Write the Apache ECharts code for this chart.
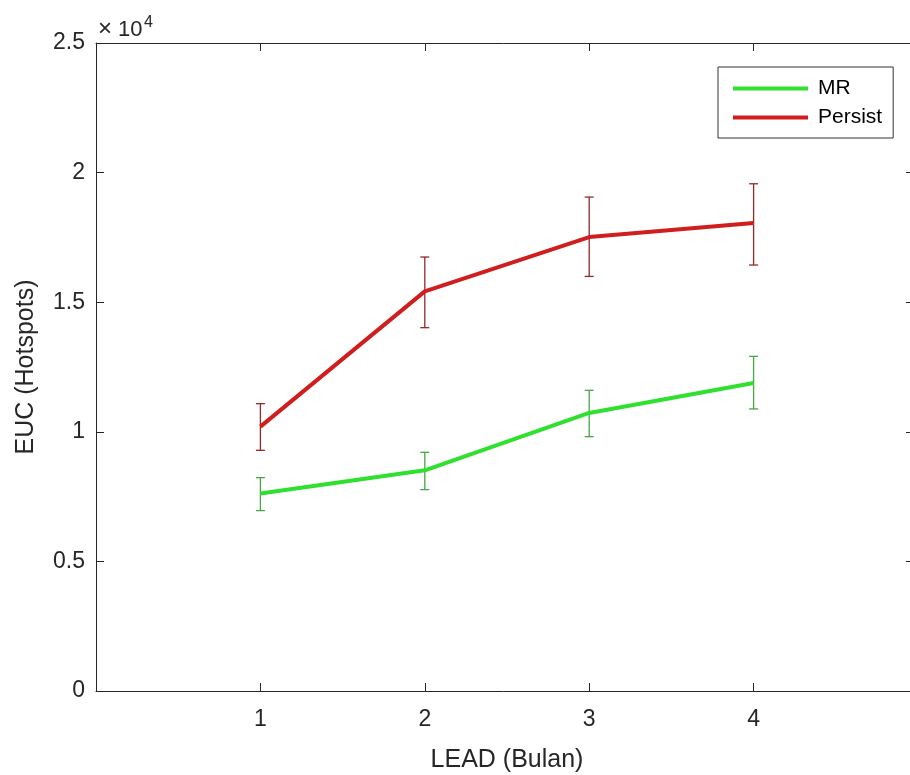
<!DOCTYPE html>
<html><head><meta charset="utf-8">
<script src="https://cdn.jsdelivr.net/npm/echarts@6/dist/echarts.min.js"></script>
<style>html,body{margin:0;padding:0;background:#fff}#c{width:910px;height:775px}</style>
</head><body><div id="c"></div>
<script>
const leads = [1, 2, 3, 4];
const xTickLabels = ['1', '2', '3', '4'];
const yTickLabels = ['0', '0.5', '1', '1.5', '2', '2.5'];
const mrMean  = [7616, 8514, 10727, 11884];
const mrLow   = [6960, 7770, 9813, 10882];
const mrHigh  = [8232, 9208, 11599, 12910];
const perMean = [10199, 15416, 17514, 18054];
const perLow  = [9285, 14017, 15995, 16434];
const perHigh = [11086, 16743, 19056, 19569];

const font = 'Liberation Sans, Arial, sans-serif';
const txt = '#262626';
const chart = echarts.init(document.getElementById('c'), null, {renderer: 'canvas'});

function errSeries(name, low, high, color) {
  return {
    type: 'custom', name: name + ' err', silent: true, z: 3,
    data: leads.map((x, i) => [x, low[i], high[i]]),
    renderItem: function (params, api) {
      const x = api.value(0);
      const lo = api.coord([x, api.value(1)]);
      const hi = api.coord([x, api.value(2)]);
      const w = 4.5;
      const st = {stroke: color, lineWidth: 1.3};
      return {type: 'group', children: [
        {type: 'line', shape: {x1: lo[0], y1: lo[1], x2: hi[0], y2: hi[1]}, style: st},
        {type: 'line', shape: {x1: lo[0]-w, y1: lo[1], x2: lo[0]+w, y2: lo[1]}, style: st},
        {type: 'line', shape: {x1: hi[0]-w, y1: hi[1], x2: hi[0]+w, y2: hi[1]}, style: st}
      ]};
    }
  };
}

const axisLine = {show: true, onZero: false, lineStyle: {color: txt, width: 1}};
chart.setOption({
  animation: false,
  grid: {left: 96, top: 43, width: 822, height: 648, show: false, containLabel: false, outerBoundsMode: 'none'},
  legend: {
    data: ['MR', 'Persist'], orient: 'vertical', left: 718, top: 67,
    icon: 'rect', itemWidth: 75, itemHeight: 4, itemGap: 8,
    padding: [11, 11, 10, 15], borderColor: '#333', borderWidth: 1,
    textStyle: {fontFamily: font, fontSize: 21, color: '#000', padding: [0, 0, 0, 5]}
  },
  xAxis: [{
    type: 'value', min: 0, max: 5, interval: 1,
    name: 'LEAD (Bulan)', nameLocation: 'middle', nameGap: 57,
    nameTextStyle: {fontFamily: font, fontSize: 25, color: txt},
    axisLine: axisLine, splitLine: {show: false},
    axisTick: {show: true, inside: true, length: 8, lineStyle: {color: txt}},
    axisLabel: {fontFamily: font, fontSize: 23, color: txt, margin: 17,
      formatter: v => (v >= 1 && v <= 4) ? xTickLabels[v - 1] : ''}
  }, {
    type: 'value', min: 0, max: 5, interval: 1, position: 'top',
    axisLine: axisLine, splitLine: {show: false},
    axisTick: {show: true, inside: true, length: 8, lineStyle: {color: txt}},
    axisLabel: {show: false}
  }],
  yAxis: [{
    type: 'value', min: 0, max: 25000, interval: 5000,
    name: 'EUC (Hotspots)', nameLocation: 'middle', nameGap: 57, nameRotate: 90,
    nameTextStyle: {fontFamily: font, fontSize: 25, color: txt},
    axisLine: axisLine, splitLine: {show: false},
    axisTick: {show: true, inside: true, length: 8, lineStyle: {color: txt}},
    axisLabel: {fontFamily: font, fontSize: 23, color: txt, margin: 11,
      formatter: v => yTickLabels[Math.round(v / 5000)]}
  }, {
    type: 'value', min: 0, max: 25000, interval: 5000, position: 'right',
    axisLine: axisLine, splitLine: {show: false},
    axisTick: {show: true, inside: true, length: 12, lineStyle: {color: txt}},
    axisLabel: {show: false}
  }],
  graphic: [
    {type: 'text', x: 98, y: 41, style: {text: '×', font: '24px ' + font, fill: txt, verticalAlign: 'bottom'}},
    {type: 'text', x: 118, y: 41, style: {text: '10', font: '22px ' + font, fill: txt, verticalAlign: 'bottom'}},
    {type: 'text', x: 144, y: 31, style: {text: '4', font: '16px ' + font, fill: txt, verticalAlign: 'bottom'}}
  ],
  series: [
    {name: 'MR', type: 'line', data: leads.map((x, i) => [x, mrMean[i]]), showSymbol: false,
      symbol: 'none', lineStyle: {color: '#2fe02f', width: 4}, itemStyle: {color: '#2fe02f'}, z: 4},
    {name: 'Persist', type: 'line', data: leads.map((x, i) => [x, perMean[i]]), showSymbol: false,
      symbol: 'none', lineStyle: {color: '#d01e1e', width: 4}, itemStyle: {color: '#d01e1e'}, z: 4},
    errSeries('MR', mrLow, mrHigh, '#45a845'),
    errSeries('Persist', perLow, perHigh, '#952828')
  ]
});
</script></body></html>
